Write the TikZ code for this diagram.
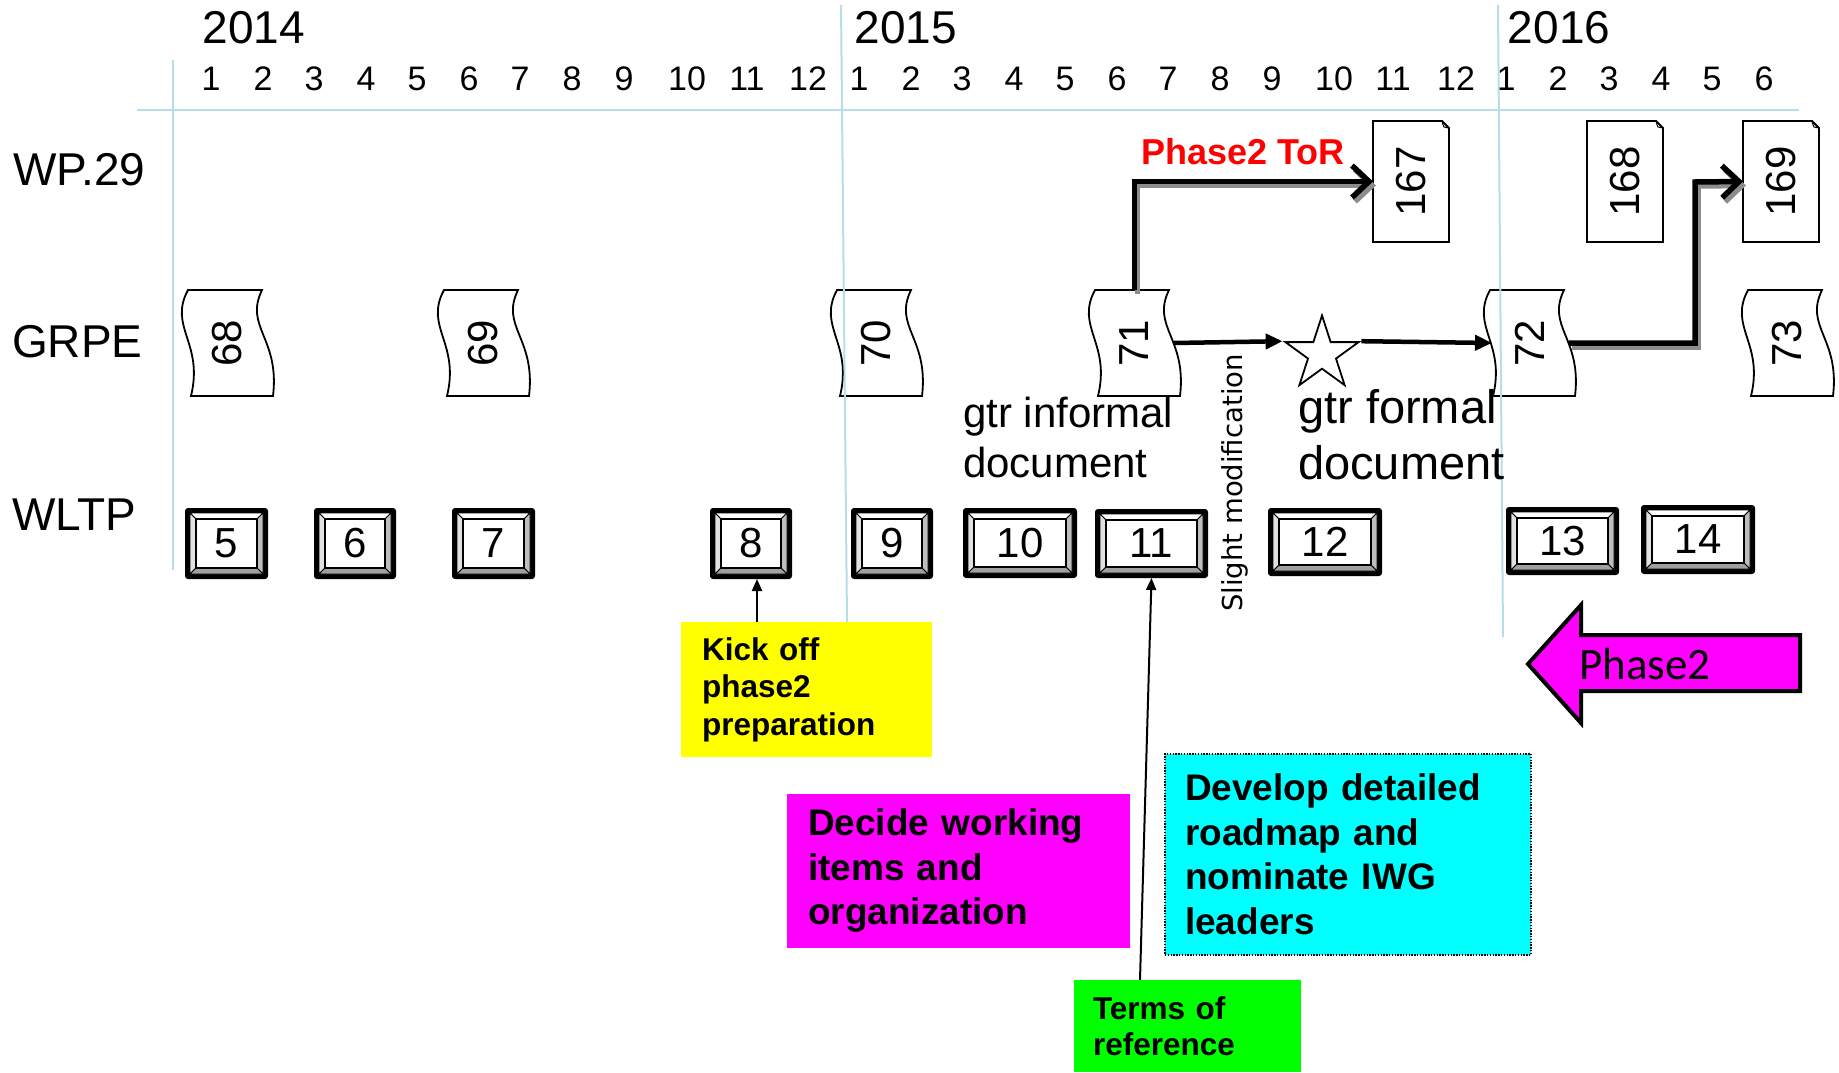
\documentclass[tikz,border=0pt]{standalone}
\usepackage{fontspec}
\setmainfont{Liberation Sans}
\newfontfamily\calibrifont{Carlito}
\newfontfamily\dejavufont{DejaVu Sans}
\usetikzlibrary{arrows.meta,shapes.geometric}
\definecolor{gridblue}{RGB}{183,221,232}
\definecolor{shadowgray}{RGB}{140,140,140}
\definecolor{bevlight}{RGB}{225,225,225}
\definecolor{bevmid}{RGB}{190,190,190}
\definecolor{bevdark}{RGB}{160,160,160}
\definecolor{notemag}{RGB}{255,0,255}
\definecolor{notecyan}{RGB}{0,255,255}
\definecolor{notegreen}{RGB}{0,255,0}
\definecolor{noteyellow}{RGB}{255,255,0}
\newcommand\fsz[2]{\fontsize{#1}{#2}\selectfont}
\tikzset{
  gridline/.style={gridblue, line width=2pt},
  tapeline/.style={draw=black, fill=white, line width=1.8pt},
  docline/.style={draw=black, fill=white, line width=1.8pt},
  boxnode/.style={inner sep=0pt, outer sep=0pt},
  bigconn/.style={line width=5.5pt, -{Straight Barb[length=17pt,width=32pt]}},
  shadowed/.style={shadowgray, transform canvas={shift={(3pt,-4pt)}}},
  midconn/.style={line width=4.5pt, -{Triangle[length=17pt,width=15pt]}},
  noteconn/.style={line width=2pt, -{Triangle[length=12pt,width=10pt]}},
  notebox/.style={inner xsep=21pt, inner ysep=0pt, align=left, font=\bfseries},
  month/.style={inner sep=0pt, font=\fsz{34}{40}},
  year/.style={inner sep=0pt, font=\fsz{46}{55}},
  rowlabel/.style={inner sep=0pt, anchor=west, font=\fsz{46}{55}},
}
\newcommand\tapeshape[4]{%
  \draw[tapeline] ({#2+6},#3) -- ({#2+80},#3) .. controls ({#2+62},{#3+37}) and ({#2+98},{#3+48}) .. ({#2+91},{#3+106}) -- ({#2+9},{#3+106}) .. controls ({#2+22},{#3+53}) and ({#2-14},{#3+37}) .. ({#2+6},#3) -- cycle;
  \node[boxnode, minimum width=91pt, minimum height=106pt] (#1) at ({#2+45.5},{#3+53}) {};
  \node[rotate=90, inner sep=0pt, font=\fsz{42}{50}] (#1-txt) at (#1.center) {#4};
}
\newcommand\docshape[6]{%
  \draw[docline] (#2,#3) -- ({#4-7},#3) -- (#4,{#3+7}) -- (#4,#5) -- (#2,#5) -- cycle;
  \draw[black, line width=1pt] ({#4-7},#3) .. controls ({#4-6},{#3+4}) .. ({#4-5},{#3+6}) -- (#4,{#3+7});
  \node[boxnode, minimum width={#4-#2}, minimum height={#5-#3}] (#1) at ({(#2+#4)/2},{(#3+#5)/2}) {};
  \node[rotate=90, inner sep=0pt, font=\fsz{42}{50}] (#1-txt) at (#1.center) {#6};
}
\newcommand\bevelbox[6]{%
  \fill[black, rounded corners=3pt] (#2,#3) rectangle (#4,#5);
  \filldraw[fill=white, draw=black, line width=0.8pt] ({#2+5},{#3+5}) -- ({#4-5},{#3+5}) -- ({#4-11},{#3+11}) -- ({#2+11},{#3+11}) -- cycle;
  \filldraw[fill=bevlight, draw=black, line width=0.8pt] ({#2+5},{#3+5}) -- ({#2+11},{#3+11}) -- ({#2+11},{#5-11}) -- ({#2+5},{#5-5}) -- cycle;
  \filldraw[fill=bevmid, draw=black, line width=0.8pt] ({#4-5},{#3+5}) -- ({#4-5},{#5-5}) -- ({#4-11},{#5-11}) -- ({#4-11},{#3+11}) -- cycle;
  \filldraw[fill=bevdark, draw=black, line width=0.8pt] ({#2+5},{#5-5}) -- ({#4-5},{#5-5}) -- ({#4-11},{#5-11}) -- ({#2+11},{#5-11}) -- cycle;
  \filldraw[fill=white, draw=black, line width=2.8pt] ({#2+11},{#3+11}) rectangle ({#4-11},{#5-11});
  \node[boxnode, minimum width={#4-#2}, minimum height={#5-#3}, font=\fsz{42}{50}] (#1) at ({(#2+#4)/2},{(#3+#5)/2}) {#6};
}
\begin{document}
\begin{tikzpicture}[x=1pt, y=-1pt]
\useasboundingbox (0,0) rectangle (1839,1073);

% years
\node[year] (y2014) at (254,28) {2014};
\node[year] (y2015) at (906,28) {2015};
\node[year] (y2016) at (1559,28) {2016};

% months
\foreach \x [count=\i] in {211,263,314,366,417,469,520,572,624,687,747,808}
  \node[month] (ma\i) at (\x,78.5) {\i};
\foreach \x [count=\i] in {859,911,962,1014,1065,1117,1168,1220,1272,1334,1393,1456}
  \node[month] (mb\i) at (\x,78.5) {\i};
\foreach \x [count=\i] in {1506,1558,1609,1661,1712,1764}
  \node[month] (mc\i) at (\x,78.5) {\i};

% row labels
\node[rowlabel] (wp29) at (13,169.5) {WP.29};
\node[rowlabel] (grpe) at (12,342) {GRPE};
\node[rowlabel] (wltp) at (12,515) {WLTP};

% GRPE sessions
\tapeshape{t68}{182}{290}{68}
\tapeshape{t69}{438}{290}{69}
\tapeshape{t70}{831}{290}{70}
\tapeshape{t71}{1089}{290}{71}
\tapeshape{t72}{1484}{290}{72}
\tapeshape{t73}{1742}{290}{73}

% grid lines
\draw[gridline] (137,110) -- (1799,110);
\draw[gridline] (173,60) -- (173,570);
\draw[gridline] (841,5) -- (847,622);
\draw[gridline] (1498,5) -- (1503,637);

% WP.29 sessions
\docshape{d167}{1373}{121}{1449}{242}{167}
\docshape{d168}{1587}{121}{1663}{242}{168}
\docshape{d169}{1743}{121}{1819}{242}{169}

% WLTP meetings
\bevelbox{b5}{185}{508}{268}{579}{5}
\bevelbox{b6}{314}{508}{396}{579}{6}
\bevelbox{b7}{452}{508}{535}{579}{7}
\bevelbox{b8}{710}{508}{792}{579}{8}
\bevelbox{b9}{851}{508}{933}{579}{9}
\bevelbox{b10}{963}{508}{1077}{578}{10}
\bevelbox{b11}{1095}{509}{1208}{578}{11}
\bevelbox{b12}{1268}{508}{1382}{576}{12}
\bevelbox{b13}{1506}{507}{1619}{575}{13}
\bevelbox{b14}{1641}{505}{1755}{574}{14}

% star
\node[star, star points=5, star point ratio=2.618, minimum size=77pt, inner sep=0pt, draw=black, fill=white, line width=1.8pt] (star) at (1322,354) {};

% thick connectors with shadow
\coordinate (bend72) at (1695,182);
\draw[bigconn, shadowed] (t71.north) |- (d167.west);
\draw[bigconn] (t71.north) |- (d167.west);
\draw[bigconn, shadowed] ([xshift=-6pt]t72.east) -| (bend72) -- (d169.west);
\draw[bigconn] ([xshift=-6pt]t72.east) -| (bend72) -- (d169.west);

\draw[midconn] ([xshift=-6pt]t71.east) -- (star.outer point 2);
\draw[midconn] (star.outer point 5) -- ([xshift=8pt]t72.west);

% texts
\node[inner sep=0pt, text=red, font=\bfseries\fsz{36}{43}] (tor-lbl) at (1243,151.5) {Phase2 ToR};
\node[inner sep=0pt, anchor=north west, align=left, font=\fsz{42}{50}] (informal) at (963,397) {gtr informal\\document};
\node[inner sep=0pt, anchor=north west, align=left, font=\fsz{47}{56}] (formal) at (1298,389) {gtr formal\\document};
\node[inner sep=0pt, rotate=90, font=\dejavufont\fsz{27.5}{33}] (slight) at (1235,483) {Slight modification};

% notes
\node[notebox, fill=noteyellow, minimum width=251pt, minimum height=135pt, text width=209pt, font=\bfseries\fsz{31.5}{37.5}] (kick) at (806.5,689.5) {Kick off\\phase2\\preparation};
\node[notebox, fill=notemag, minimum width=343pt, minimum height=154pt, text width=301pt, font=\bfseries\fsz{37}{44.5}] (decide) at (958.5,871) {Decide working\\items and\\organization};
\node[notebox, fill=notecyan, draw=black, line width=1.3pt, dash pattern=on 1.4pt off 1.4pt, inner xsep=20pt, minimum width=366pt, minimum height=201pt, text width=326pt, font=\bfseries\fsz{37}{44.5}] (develop) at (1348,854.5) {Develop detailed\\roadmap and\\nominate IWG\\leaders};
\node[notebox, fill=notegreen, inner xsep=19pt, minimum width=227pt, minimum height=92pt, text width=189pt, font=\bfseries\fsz{31.5}{36.5}] (terms) at (1187.5,1026) {Terms of\\reference};

% note connectors
\coordinate (k8) at ([xshift=6pt]b8.south);
\draw[noteconn] (k8 |- kick.north) -- (k8);
\draw[noteconn] ([xshift=-47.5pt]terms.north) -- (b11.south);

% Phase2 block arrow
\filldraw[fill=notemag, draw=black, line width=4pt] (1528,664) -- (1581,605) -- (1581,635) -- (1800,635) -- (1800,691) -- (1581,691) -- (1581,723) -- cycle;
\node[inner sep=0pt, font=\calibrifont\fsz{45}{54}] (ph2) at (1645,664) {Phase2};
\end{tikzpicture}
\end{document}
